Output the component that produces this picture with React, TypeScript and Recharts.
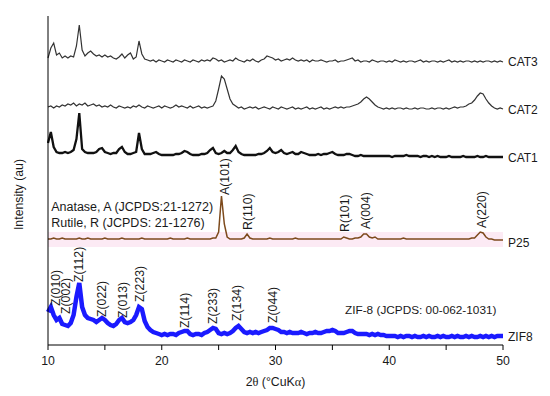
import React from 'react';
import { LineChart, Line, XAxis, YAxis, ReferenceDot, ReferenceArea } from 'recharts';

// 2-theta sampling (degrees), 0.25 step
const ANGLES = [
  10, 10.25, 10.5, 10.75, 11, 11.25, 11.5, 11.75, 12, 12.25, 12.5, 12.75, 13, 13.25, 13.5, 13.75,
  14, 14.25, 14.5, 14.75, 15, 15.25, 15.5, 15.75, 16, 16.25, 16.5, 16.75, 17, 17.25, 17.5, 17.75,
  18, 18.25, 18.5, 18.75, 19, 19.25, 19.5, 19.75, 20, 20.25, 20.5, 20.75, 21, 21.25, 21.5, 21.75,
  22, 22.25, 22.5, 22.75, 23, 23.25, 23.5, 23.75, 24, 24.25, 24.5, 24.75, 25, 25.25, 25.5, 25.75,
  26, 26.25, 26.5, 26.75, 27, 27.25, 27.5, 27.75, 28, 28.25, 28.5, 28.75, 29, 29.25, 29.5, 29.75,
  30, 30.25, 30.5, 30.75, 31, 31.25, 31.5, 31.75, 32, 32.25, 32.5, 32.75, 33, 33.25, 33.5, 33.75,
  34, 34.25, 34.5, 34.75, 35, 35.25, 35.5, 35.75, 36, 36.25, 36.5, 36.75, 37, 37.25, 37.5, 37.75,
  38, 38.25, 38.5, 38.75, 39, 39.25, 39.5, 39.75, 40, 40.25, 40.5, 40.75, 41, 41.25, 41.5, 41.75,
  42, 42.25, 42.5, 42.75, 43, 43.25, 43.5, 43.75, 44, 44.25, 44.5, 44.75, 45, 45.25, 45.5, 45.75,
  46, 46.25, 46.5, 46.75, 47, 47.25, 47.5, 47.75, 48, 48.25, 48.5, 48.75, 49, 49.25, 49.5, 49.75,
  50,
];

// intensities (au) above each pattern's own baseline
const CAT3 = [
  4, 14, 19, 7, 9, 4, 6, 4, 6, 5, 16, 37, 12, 6, 9, 11,
  8, 6, 7, 5, 7, 5, 6, 4, 3, 5, 8, 4, 7, 9, 3, 5,
  21, 8, 3, 2, 1, 2, 0, 2, 1, 0, 2, 1, 0, 2, 1, 0,
  2, 1, 0, 2, 1, 0, 2, 1, 2, 1, 4, 3, 1, 2, 0, 1,
  2, 1, 4, 2, 1, 0, 2, 1, 3, 1, 0, 2, 3, 6, 5, 4,
  2, 3, 1, 2, 3, 2, 4, 2, 1, 2, 1, 2, 0, 2, 1, 1,
  2, 1, 0, 1, 1, 2, 0, 1, 1, 2, 3, 4, 1, 2, 0, 1,
  1, 0, 2, 1, 0, 1, 1, 0, 1, 0, 2, 1, 0, 1, 0, 1,
  1, 0, 1, 2, 0, 1, 0, 1, 1, 0, 1, 0, 1, 2, 0, 1,
  0, 1, 0, 1, 1, 0, 1, 0, 1, 0, 1, 1, 0, 1, 0, 1,
  0,
];

const CAT2 = [
  2, 3, 1, 3, 2, 4, 3, 5, 4, 6, 3, 5, 4, 6, 3, 4,
  5, 3, 4, 2, 3, 2, 4, 2, 1, 3, 2, 1, 2, 1, 3, 2,
  4, 2, 1, 3, 2, 1, 2, 3, 1, 3, 2, 1, 2, 4, 2, 3,
  2, 1, 3, 1, 2, 3, 1, 2, 1, 2, 3, 8, 20, 33, 30, 20,
  10, 5, 3, 1, 2, 0, 1, 2, 1, 2, 0, 1, 2, 1, 0, 2,
  1, 0, 2, 1, 0, 1, 2, 0, 1, 0, 1, 2, 0, 1, 0, 1,
  2, 0, 1, 0, 1, 2, 1, 2, 1, 2, 2, 3, 4, 5, 7, 10,
  12, 10, 7, 4, 2, 1, 0, 1, 0, 1, 0, 1, 1, 0, 1, 0,
  0, 1, 0, 1, 1, 0, 0, 1, 0, 1, 1, 0, 1, 0, 1, 2,
  1, 2, 2, 3, 5, 6, 9, 13, 16, 15, 10, 6, 3, 1, 0, 1,
  0,
];

const CAT1 = [
  14, 25, 10, 5, 4, 4, 5, 4, 5, 7, 18, 44, 8, 5, 4, 4,
  4, 5, 8, 9, 5, 4, 3, 4, 4, 8, 10, 5, 3, 3, 4, 5,
  24, 8, 3, 3, 3, 4, 5, 3, 2, 2, 2, 2, 2, 3, 3, 4,
  6, 5, 3, 2, 2, 2, 3, 3, 4, 7, 9, 4, 3, 4, 6, 4,
  4, 7, 11, 5, 3, 2, 2, 2, 2, 2, 3, 3, 4, 6, 9, 5,
  4, 5, 7, 4, 3, 4, 5, 3, 3, 5, 4, 3, 2, 2, 2, 3,
  2, 3, 3, 4, 5, 3, 2, 2, 2, 3, 3, 2, 1, 1, 2, 1,
  1, 1, 1, 1, 1, 1, 1, 1, 1, 0, 1, 1, 1, 1, 2, 1,
  1, 1, 1, 0, 1, 1, 0, 1, 0, 1, 0, 0, 0, 1, 0, 0,
  0, 0, 1, 0, 0, 0, 0, 1, 0, 0, 1, 0, 0, 0, 0, 0,
  0,
];

const P25 = [
  1, 1, 2, 1, 1, 2, 1, 1, 1, 1, 1, 2, 1, 1, 2, 1,
  1, 1, 1, 1, 2, 1, 1, 1, 1, 1, 2, 1, 1, 1, 1, 1,
  1, 2, 1, 1, 1, 1, 1, 1, 1, 1, 1, 2, 1, 1, 1, 1,
  1, 2, 1, 1, 1, 1, 1, 1, 1, 1, 2, 2, 8, 44, 16, 3,
  1, 1, 1, 1, 1, 2, 6, 2, 1, 1, 1, 1, 1, 1, 2, 1,
  1, 1, 1, 1, 1, 1, 1, 2, 1, 1, 1, 1, 1, 1, 1, 1,
  1, 1, 1, 1, 1, 1, 1, 1, 3, 2, 1, 1, 2, 2, 3, 6,
  6, 3, 2, 3, 1, 1, 1, 1, 1, 1, 1, 1, 1, 2, 1, 1,
  1, 1, 1, 1, 1, 1, 1, 1, 1, 1, 1, 1, 1, 1, 1, 1,
  1, 1, 1, 1, 1, 2, 2, 5, 8, 7, 3, 1, 1, 0, 0, 0,
  0,
];

const ZIF8 = [
  25, 30, 22, 17, 19, 13, 12, 11, 14, 22, 40, 54, 30, 22, 19, 18,
  17, 15, 17, 19, 17, 14, 12, 11, 13, 17, 19, 15, 14, 15, 17, 22,
  30, 28, 16, 10, 7, 5, 4, 3, 2, 3, 2, 3, 3, 2, 4, 5,
  6, 6, 3, 2, 3, 3, 2, 4, 5, 7, 9, 8, 4, 3, 4, 3,
  4, 6, 9, 11, 8, 5, 4, 5, 4, 5, 4, 5, 6, 7, 9, 9,
  8, 7, 5, 5, 4, 5, 4, 4, 4, 5, 4, 3, 4, 4, 5, 4,
  4, 5, 6, 6, 7, 6, 4, 4, 4, 5, 6, 6, 4, 3, 3, 3,
  3, 2, 3, 2, 3, 2, 2, 1, 1, 1, 1, 0, 1, 0, 1, 1,
  0, 1, 0, 0, 1, 0, 1, 0, 0, 1, 0, 1, 0, 0, 1, 0,
  1, 0, 0, 1, 0, 1, 0, 0, 1, 0, 1, 0, 1, 0, 1, 1,
  1,
];

// vertical stacking offsets (au)
const OFFSETS = { zif8: 8, p25: 105, cat1: 188, cat2: 236, cat3: 283 };

const SERIES_NAMES = ['CAT3', 'CAT2', 'CAT1', 'P25', 'ZIF8'];
const SERIES_LABEL_Y = [283, 235, 187, 102, 8];

const PEAK_LABELS = [
  { text: 'A(101)', x: 25.48, y: 150 },
  { text: 'R(110)', x: 27.51, y: 115 },
  { text: 'R(101)', x: 36.11, y: 113 },
  { text: 'A(004)', x: 37.96, y: 116 },
  { text: 'A(220)', x: 48.15, y: 117 },
  { text: 'Z(010)', x: 10.63, y: 39 },
  { text: 'Z(002)', x: 11.54, y: 31 },
  { text: 'Z(112)', x: 12.71, y: 63 },
  { text: 'Z(022)', x: 14.69, y: 28 },
  { text: 'Z(013)', x: 16.53, y: 27 },
  { text: 'Z(223)', x: 18.06, y: 43 },
  { text: 'Z(114)', x: 22.02, y: 17 },
  { text: 'Z(233)', x: 24.51, y: 21 },
  { text: 'Z(134)', x: 26.57, y: 24 },
  { text: 'Z(044)', x: 29.74, y: 22 },
];

const NOTES = [
  { text: 'Anatase, A (JCPDS:21-1272)', x: 10.28, y: 138, size: 12.5 },
  { text: 'Rutile, R (JCPDS: 21-1276)', x: 10.28, y: 122.5, size: 12.5 },
  { text: 'ZIF-8 (JCPDS: 00-062-1031)', x: 36.11, y: 35, size: 11.8 },
];

const data = ANGLES.map((x, i) => ({
  x,
  cat3: CAT3[i] + OFFSETS.cat3,
  cat2: CAT2[i] + OFFSETS.cat2,
  cat1: CAT1[i] + OFFSETS.cat1,
  p25: P25[i] + OFFSETS.p25,
  zif8: ZIF8[i] + OFFSETS.zif8,
}));

const FONT = '"Liberation Sans", Arial, sans-serif';

const RotLabel = ({ viewBox, text }: any) => {
  const x = viewBox.x + (viewBox.width || 0) / 2;
  const y = viewBox.y + (viewBox.height || 0) / 2;
  return (
    <text
      x={x}
      y={y}
      dy="0.36em"
      transform={`rotate(-90 ${x} ${y})`}
      fontSize={12.3}
      fontFamily={FONT}
      fill="#1a1a1a"
      textAnchor="start"
    >
      {text}
    </text>
  );
};

const FlatLabel = ({ viewBox, text, size, dx = 0 }: any) => {
  const x = viewBox.x + (viewBox.width || 0) / 2 + dx;
  const y = viewBox.y + (viewBox.height || 0) / 2;
  return (
    <text x={x} y={y} dy="0.35em" fontSize={size} fontFamily={FONT} fill="#1a1a1a" textAnchor="start">
      {text}
    </text>
  );
};

const YTitle = ({ viewBox }: any) => {
  const x = viewBox.x + 19;
  const y = viewBox.y + viewBox.height / 2 + 14;
  return (
    <text x={x} y={y} dy="0.35em" transform={`rotate(-90 ${x} ${y})`} textAnchor="middle"
      fontSize={12.3} fontFamily={FONT} fill="#1a1a1a">
      Intensity (au)
    </text>
  );
};

const XTitle = ({ viewBox }: any) => {
  const x = viewBox.x + viewBox.width / 2;
  const y = viewBox.y + 41;
  return (
    <text x={x} y={y} textAnchor="middle" fontSize={12.3} fontFamily={FONT} fill="#1a1a1a">
      2<tspan fontFamily='"Liberation Serif", serif'>θ</tspan> (°CuK
      <tspan fontFamily='"Liberation Serif", serif'>α</tspan>)
    </text>
  );
};

const App = () => {
  return (
    <div style={{ position: 'absolute', left: 0, top: 0, background: '#fff' }}>
      <LineChart width={550} height={396} data={data} margin={{ top: 16, right: 47, bottom: 0, left: 0 }}>
        <XAxis
          dataKey="x"
          type="number"
          domain={[10, 50]}
          ticks={[10, 15, 20, 25, 30, 35, 40, 45, 50]}
          tickFormatter={(v: number) => (v % 10 === 0 ? String(v) : '')}
          tickSize={5}
          tickMargin={6}
          height={51}
          axisLine={{ stroke: '#000' }}
          tickLine={{ stroke: '#000' }}
          tick={{ fontSize: 12.3, fill: '#1a1a1a', fontFamily: FONT }}
          label={<XTitle />}
        />
        <XAxis
          xAxisId="top"
          orientation="top"
          dataKey="x"
          type="number"
          domain={[10, 50]}
          height={0}
          tick={false}
          tickLine={false}
          axisLine={{ stroke: '#c8c8c8', strokeWidth: 1.5 }}
        />
        <YAxis
          type="number"
          domain={[0, 329]}
          allowDataOverflow
          width={48}
          tick={false}
          tickLine={false}
          axisLine={{ stroke: '#000' }}
          label={<YTitle />}
        />
        <YAxis
          yAxisId="right"
          orientation="right"
          type="number"
          domain={[0, 329]}
          width={0}
          tick={false}
          tickLine={false}
          axisLine={{ stroke: '#c8c8c8', strokeWidth: 1.5 }}
        />
        <ReferenceArea x1={10} x2={50} y1={OFFSETS.p25 - 7} y2={OFFSETS.p25 + 8} fill="#fbe1f0" fillOpacity={0.7} stroke="none" />
        <Line dataKey="cat3" stroke="#333" strokeWidth={1.2} dot={false} isAnimationActive={false} />
        <Line dataKey="cat2" stroke="#333" strokeWidth={1.2} dot={false} isAnimationActive={false} />
        <Line dataKey="cat1" stroke="#111" strokeWidth={2.3} dot={false} isAnimationActive={false} />
        <Line dataKey="p25" stroke="#7d4a1c" strokeWidth={1.5} dot={false} isAnimationActive={false} />
        <Line dataKey="zif8" stroke="#1a1aff" strokeWidth={4.5} dot={false} isAnimationActive={false} />
        {PEAK_LABELS.map((p) => (
          <ReferenceDot key={p.text} x={p.x} y={p.y} r={0} stroke="none" fill="none" label={<RotLabel text={p.text} />} />
        ))}
        {NOTES.map((n) => (
          <ReferenceDot key={n.text} x={n.x} y={n.y} r={0} stroke="none" fill="none" label={<FlatLabel text={n.text} size={n.size} />} />
        ))}
        {SERIES_NAMES.map((name, i) => (
          <ReferenceDot key={name} x={50} y={SERIES_LABEL_Y[i]} r={0} stroke="none" fill="none" label={<FlatLabel text={name} size={12} dx={5} />} />
        ))}
      </LineChart>
    </div>
  );
};

export default App;
